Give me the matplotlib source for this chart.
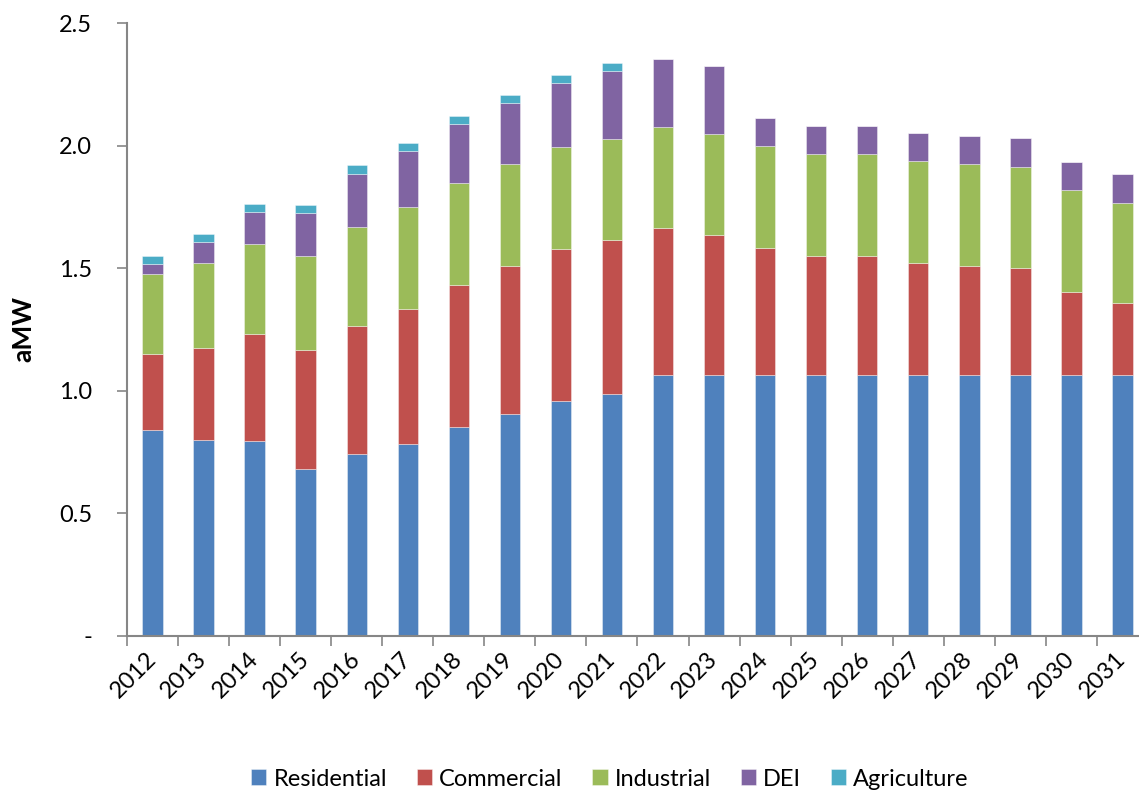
import numpy as np
import matplotlib.pyplot as plt

years = [str(y) for y in range(2012, 2032)]

residential = [0.840, 0.798, 0.794, 0.680, 0.742, 0.783, 0.851, 0.905, 0.958, 0.988,
               1.064, 1.064, 1.064, 1.064, 1.064, 1.064, 1.064, 1.064, 1.064, 1.064]
commercial = [0.309, 0.378, 0.436, 0.486, 0.522, 0.552, 0.582, 0.605, 0.622, 0.628,
              0.599, 0.570, 0.520, 0.487, 0.487, 0.458, 0.446, 0.437, 0.340, 0.293]
industrial = [0.327, 0.344, 0.367, 0.385, 0.405, 0.415, 0.414, 0.414, 0.413, 0.412,
              0.414, 0.415, 0.414, 0.414, 0.414, 0.415, 0.415, 0.413, 0.415, 0.410]
dei = [0.042, 0.088, 0.131, 0.175, 0.216, 0.229, 0.242, 0.251, 0.264, 0.277,
       0.275, 0.274, 0.116, 0.114, 0.114, 0.116, 0.115, 0.116, 0.113, 0.116]
agriculture = [0.032, 0.031, 0.033, 0.031, 0.035, 0.032, 0.032, 0.031, 0.031, 0.031,
               0, 0, 0, 0, 0, 0, 0, 0, 0, 0]

series = [('Residential', residential, '#4F81BD'),
          ('Commercial', commercial, '#C0504D'),
          ('Industrial', industrial, '#9BBB59'),
          ('DEI', dei, '#8064A2'),
          ('Agriculture', agriculture, '#4BACC6')]

yticks = [0, 0.5, 1.0, 1.5, 2.0, 2.5]
ytick_labels = ['-', '0.5', '1.0', '1.5', '2.0', '2.5']

plt.rcParams['font.family'] = ['Lato', 'DejaVu Sans']
fs = 17

fig = plt.figure(figsize=(11.39, 7.91), dpi=100)
ax = fig.add_axes([127 / 1139, 155 / 791, 1021 / 1139, 613 / 791])

x = np.arange(len(years))
bottom = np.zeros(len(years))
for name, vals, color in series:
    vals = np.array(vals)
    ax.bar(x, vals, width=0.4, bottom=bottom, color=color, label=name,
           edgecolor=(1, 1, 1, 0.45), linewidth=0.6)
    bottom += vals

ax.set_xlim(-0.5, len(years) - 0.5)
ax.set_ylim(0, 2.5)

ax.set_yticks(yticks)
ax.set_yticklabels(ytick_labels, fontsize=fs)
ax.set_ylabel('aMW', fontsize=19, fontweight='bold', labelpad=17)

# year labels hang down-left from a point just under each bar
ax.set_xticks(x)
ax.set_xticklabels(years, rotation=45, ha='right', va='center',
                   rotation_mode='anchor', fontsize=fs)
ax.set_xticks(np.arange(-0.5, len(years)), minor=True)
ax.tick_params(axis='x', which='major', length=0, pad=14)
ax.tick_params(axis='x', which='minor', length=7, width=1.2, color='#868686')
ax.tick_params(axis='y', length=7, width=1.2, color='#868686', pad=18)

for side in ['top', 'right']:
    ax.spines[side].set_visible(False)
for side in ['left', 'bottom']:
    ax.spines[side].set_color('#868686')
    ax.spines[side].set_linewidth(1.5)

ax.legend(loc='center', bbox_to_anchor=(610 / 1139, 12 / 791), bbox_transform=fig.transFigure,
          ncol=5, frameon=False, fontsize=fs, handlelength=0.64, handleheight=0.64,
          handletextpad=0.3, columnspacing=1.27)

fig.savefig('out.png', dpi=100)
